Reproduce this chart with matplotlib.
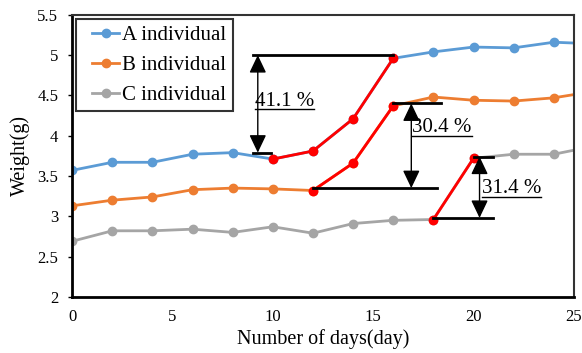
import numpy as np
import matplotlib
matplotlib.use('Agg')
import matplotlib.pyplot as plt
from matplotlib.lines import Line2D
from matplotlib.legend_handler import HandlerLine2D

plt.rcParams['font.family'] = ['Liberation Serif', 'DejaVu Serif']

days = [0, 2, 4, 6, 8, 10, 12, 14, 16, 18, 20, 22, 24, 26]
weight_a = [3.57, 3.67, 3.67, 3.77, 3.79, 3.71, 3.81, 4.21, 4.96, 5.04, 5.10, 5.09, 5.16, 5.14]
weight_b = [3.13, 3.20, 3.24, 3.33, 3.35, 3.34, 3.32, 3.66, 4.37, 4.48, 4.44, 4.43, 4.47, 4.55]
weight_c = [2.69, 2.82, 2.82, 2.84, 2.80, 2.87, 2.79, 2.91, 2.95, 2.96, 3.72, 3.77, 3.77, 3.87]
labels = ['A individual', 'B individual', 'C individual']
colors = ['#5B9BD5', '#ED7D31', '#A5A5A5']
# index ranges of the fast-growth stretch for each series (drawn in red)
growth = [(5, 8), (6, 8), (9, 10)]
# growth annotations
pct_text = ['41.1 %', '30.4 %', '31.4 %']
top_lvl = [5.0, 4.40, 3.74]
bot_lvl = [3.79, 3.35, 2.98]
arrow_x = [9.25, 16.9, 20.3]
top_bar = [(9.0, 16.0), (16.0, 18.4), (20.0, 20.95)]
bot_bar = [(9.0, 9.9), (12.0, 18.2), (18.0, 20.95)]
text_pos = [(9.1, 4.43), (16.95, 4.10), (20.4, 3.34)]

fig = plt.figure(figsize=(5.82, 3.53), dpi=100)
ax = fig.add_axes([0.124, 0.159, 0.862, 0.799])

series = [weight_a, weight_b, weight_c]
for ys, lab, col, (i0, i1) in zip(series, labels, colors, growth):
    ax.plot(days, ys, color=col, lw=2, marker='o', ms=6, label=lab)
    ax.plot(days[i0:i1 + 1], ys[i0:i1 + 1], color='red', lw=2, marker='o', ms=6)

for k in range(3):
    ax.plot(top_bar[k], [top_lvl[k]] * 2, color='black', lw=2)
    ax.plot(bot_bar[k], [bot_lvl[k]] * 2, color='black', lw=2)
    ax.annotate('', xy=(arrow_x[k], top_lvl[k]), xytext=(arrow_x[k], bot_lvl[k]),
                arrowprops=dict(arrowstyle='<|-|>,head_length=0.42,head_width=0.2',
                                color='black', lw=1, mutation_scale=26,
                                shrinkA=0, shrinkB=0))

txts = []
for (tx, ty), s in zip(text_pos, pct_text):
    txts.append(ax.text(tx, ty, s, fontsize=15, va='center', ha='left'))

ax.set_xlim(0, 25)
ax.set_ylim(2, 5.5)
ax.set_xticks([0, 5, 10, 15, 20, 25])
ax.set_yticks([2, 2.5, 3, 3.5, 4, 4.5, 5, 5.5])
ax.set_yticklabels(['2', '2.5', '3', '3.5', '4', '4.5', '5', '5.5'])
ax.tick_params(axis='x', length=0, labelsize=12, pad=9)
ax.tick_params(axis='y', length=3, width=1, labelsize=12, pad=7)
ax.set_xlabel('Number of days(day)', fontsize=14.5, labelpad=3)
ax.set_ylabel('Weight(g)', fontsize=14.5, labelpad=5)
for side in ['left', 'bottom']:
    ax.spines[side].set_linewidth(2)
for side in ['top', 'right']:
    ax.spines[side].set_linewidth(1.5)
    ax.spines[side].set_color('#333333')

leg = ax.legend(loc='upper left', fontsize=15, frameon=True, fancybox=False,
                borderaxespad=0.2, handlelength=1.75, handletextpad=0.15,
                labelspacing=0.5, borderpad=0.3,
                handler_map={Line2D: HandlerLine2D(xpad=0.45)})
leg.get_frame().set_edgecolor('black')
leg.get_frame().set_linewidth(1.5)

# underline the percentage labels
fig.canvas.draw()
inv = ax.transData.inverted()
for t in txts:
    bb = t.get_window_extent()
    (x0, y0), (x1, _) = inv.transform([(bb.x0, bb.y0), (bb.x1, bb.y1)])
    ax.plot([x0, x1], [y0 + 0.02, y0 + 0.02], color='black', lw=1)

fig.savefig('out.png', dpi=100)
